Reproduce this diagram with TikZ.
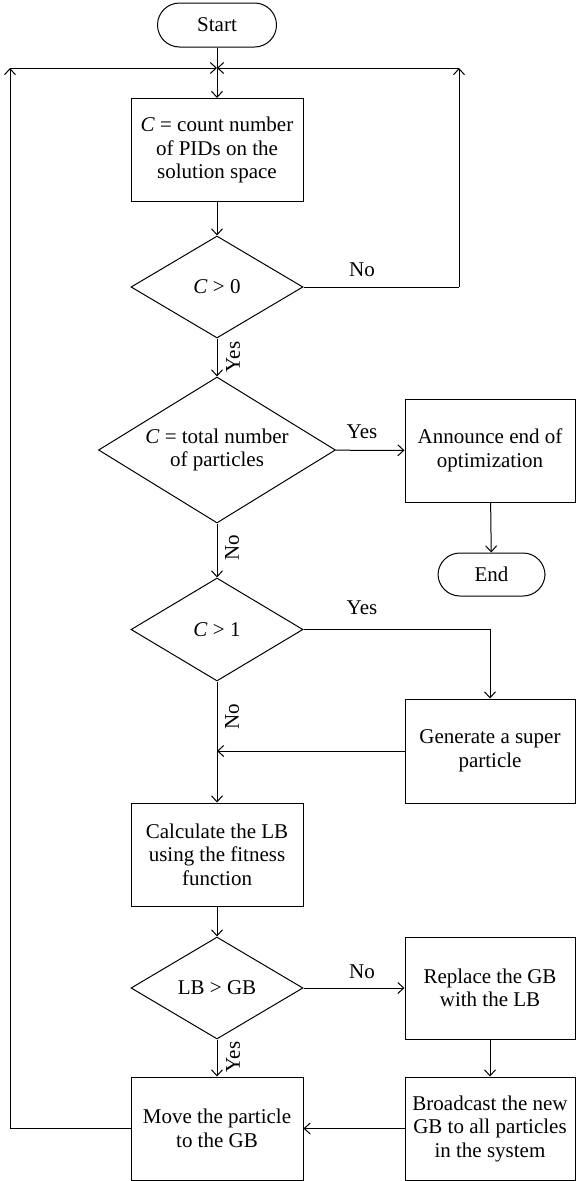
\documentclass[tikz,border=0pt]{standalone}
\usepackage{fontspec}
\setmainfont{Liberation Serif}
\usetikzlibrary{shapes.geometric,arrows.meta}
\begin{document}
\begin{tikzpicture}[x=1pt,y=-1pt,
  font=\fontsize{21}{23.5}\selectfont,
  every node/.style={line width=1pt},
  box/.style={draw, minimum width=172pt, minimum height=103pt, align=center, inner sep=1pt},
  dec/.style={diamond, draw, aspect=1.67, inner sep=0pt, align=center},
  term/.style={draw, rounded corners=22pt, minimum width=119pt, minimum height=44pt, inner sep=1pt},
  arr/.style={-{Straight Barb[length=6pt,width=11pt,line width=1pt]}, line width=1pt},
  ln/.style={line width=1pt},
  lab/.style={inner sep=0pt}]
\useasboundingbox (0,0) rectangle (576,1181);
% nodes
\node[term] (start) at (217,25) {Start};
\node[box] (b1) at (217,150) {\textit{C} = count number\\of PIDs on the\\solution space};
\node[dec, minimum width=172pt, minimum height=102pt] (d1) at (217,287) {\textit{C} > 0};
\node[dec, minimum width=237pt, minimum height=146pt] (d2) at (217,450) {\textit{C} = total number\\of particles};
\node[box, minimum width=170pt] (ann) at (490,450.5) {Announce end of\\optimization};
\node[term, minimum width=107pt, minimum height=43pt] (end) at (491.5,574.5) {End};
\node[dec, minimum width=172pt, minimum height=103pt] (d3) at (217,629.5) {\textit{C} > 1};
\node[box, minimum width=170pt, minimum height=104pt] (gen) at (490,751) {Generate a super\\particle};
\node[box] (calc) at (217,854.5) {Calculate the LB\\using the fitness\\function};
\node[dec, minimum width=172pt, minimum height=102pt] (d4) at (217,988) {LB > GB};
\node[box, minimum width=170pt, minimum height=102pt] (rep) at (490,988) {Replace the GB\\with the LB};
\node[box, minimum width=170pt] (brd) at (490,1128.5) {Broadcast the new\\GB to all particles\\in the system};
\node[box] (move) at (217,1128.5) {Move the particle\\to the GB};
% helper coordinates
\coordinate (j) at (217,68);
\coordinate (tl) at (10,68);
\coordinate (tr) at (459,68);
\coordinate (bl) at (tl |- move.west);
\coordinate (rr) at (tr |- d1.east);
\coordinate (gj) at (gen.west -| d3.south);
% connectors
\draw[arr] (start) -- (b1);
\draw[arr] (b1) -- (d1);
\draw[ln] (d1.east) -- (rr);
\draw[arr] (rr) -- (tr);
\draw[arr] (tr) -- (j);
\draw[ln] (move.west) -- (bl);
\draw[arr] (bl) -- (tl);
\draw[arr] (tl) -- (j);
\draw[arr] (d1) -- (d2);
\draw[arr] (d2) -- (ann);
\draw[arr] (ann) -- (end);
\draw[arr] (d2) -- (d3);
\draw[arr] (d3.east) -| (gen.north);
\draw[arr] (gen.west) -- (gj);
\draw[arr] (d3) -- (calc);
\draw[arr] (calc) -- (d4);
\draw[arr] (d4) -- (rep);
\draw[arr] (rep) -- (brd);
\draw[arr] (brd) -- (move);
\draw[arr] (d4) -- (move);
% labels
\node[lab] (l1) at (362,270) {No};
\node[lab, rotate=90] (l2) at (233,357) {Yes};
\node[lab] (l3) at (362,432) {Yes};
\node[lab, rotate=90] (l4) at (232,548) {No};
\node[lab] (l5) at (362,608) {Yes};
\node[lab, rotate=90] (l6) at (232,717) {No};
\node[lab] (l7) at (362,972) {No};
\node[lab, rotate=90] (l8) at (233,1057) {Yes};
\end{tikzpicture}
\end{document}
